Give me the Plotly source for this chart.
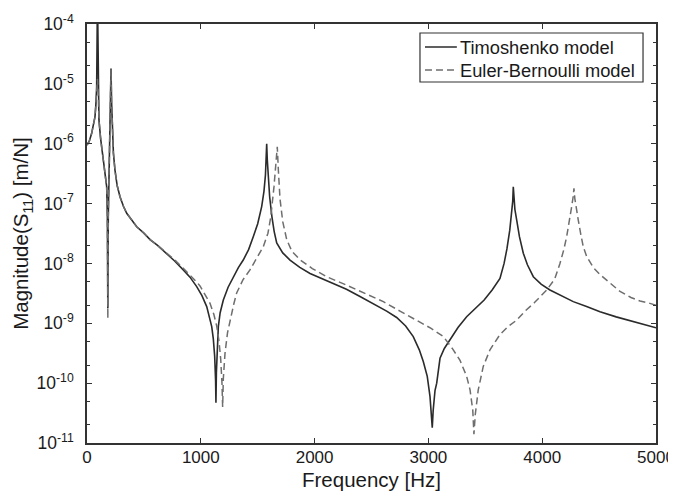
import plotly.graph_objects as go

# Timoshenko model (solid)
timo_freq = [0, 20, 41, 55, 70, 78, 85, 92, 100, 105, 120, 143, 160, 173, 179, 183, 187, 193, 200, 205, 211,
             216, 222, 232, 246, 265, 290, 320, 349, 390, 437, 500, 554, 620, 700, 770, 846, 905, 964, 1010,
             1052, 1080, 1096, 1110, 1122, 1130, 1133, 1137, 1145, 1154, 1170, 1198, 1240, 1286, 1330, 1373,
             1420, 1461, 1500, 1535, 1555, 1568, 1575, 1579, 1584, 1592, 1605, 1625, 1645, 1667, 1720, 1784,
             1870, 1960, 2060, 2164, 2280, 2399, 2520, 2633, 2721, 2800, 2867, 2920, 2955, 2990, 3014, 3028,
             3034, 3042, 3058, 3073, 3102, 3140, 3190, 3260, 3336, 3420, 3490, 3560, 3629, 3665, 3690, 3715,
             3732, 3741, 3746, 3752, 3760, 3776, 3800, 3834, 3870, 3922, 3990, 4068, 4170, 4273, 4390, 4508,
             4650, 4800, 5000]
timo_mag = [9.5e-7, 1.1e-6, 1.49e-6, 2.0e-6, 2.8e-6, 4.5e-6, 9.0e-6, 3e-4, 6e-6, 2.5e-6, 1.2e-6, 5.3e-7, 3e-7,
            1.9e-7, 6e-8, 1.8e-9, 6e-8, 3.6e-7, 1.5e-6, 9e-6, 1.8e-5,
            5e-6, 1.7e-6, 7e-7, 3.6e-7, 2.0e-7, 1.3e-7, 9e-8, 6.9e-8, 5.3e-8, 4.1e-8, 3.2e-8, 2.5e-8, 2.0e-8,
            1.48e-8, 1.1e-8, 7.8e-9, 5.9e-9, 4.1e-9, 2.9e-9,
            1.9e-9, 1.2e-9, 8.8e-10, 5.5e-10, 2.8e-10, 1.1e-10, 4.7e-11, 1.5e-10, 4e-10, 8.8e-10, 1.5e-9, 2.45e-9,
            4.0e-9, 6.0e-9, 8.5e-9, 1.14e-8,
            1.7e-8, 2.8e-8, 4.6e-8, 8.9e-8, 1.6e-7, 3.0e-7, 5.5e-7, 1.0e-6, 5.5e-7, 2.8e-7, 1.3e-7, 6.0e-8,
            3.4e-8, 2.2e-8, 1.5e-8, 1.14e-8,
            8.6e-9, 6.8e-9, 5.6e-9, 4.7e-9, 3.7e-9, 2.8e-9, 2.1e-9, 1.6e-9, 1.25e-9, 9e-10, 6e-10, 3.6e-10,
            2.3e-10, 1.3e-10, 6e-11, 3.0e-11,
            1.8e-11, 3.5e-11, 7.5e-11, 1.0e-10, 2.6e-10, 3.8e-10, 5.3e-10, 8.5e-10, 1.29e-9, 1.8e-9, 2.45e-9,
            3.6e-9, 5.6e-9, 1.0e-8, 1.75e-8, 3.6e-8,
            6.5e-8, 1.1e-7, 1.9e-7, 1.1e-7, 8e-8, 5.3e-8, 2.8e-8, 1.48e-8, 9.5e-9, 6.0e-9, 4.5e-9, 3.6e-9,
            2.9e-9, 2.3e-9, 1.9e-9, 1.56e-9,
            1.28e-9, 1.06e-9, 8.4e-10]

# Euler-Bernoulli model (dashed)
eb_freq = [0, 20, 41, 55, 70, 78, 85, 92, 100, 105, 120, 143, 160, 173, 179, 183, 187, 193, 200, 205, 211,
           216, 222, 232, 246, 265, 290, 320, 349, 390, 437, 500, 554, 620, 700, 770, 846, 905, 964, 993,
           1040, 1081, 1115, 1140, 1160, 1175, 1186, 1192, 1198, 1213, 1235, 1257, 1290, 1315, 1370, 1432,
           1490, 1549, 1590, 1615, 1643, 1660, 1672, 1682, 1696, 1720, 1755, 1800, 1872, 1980, 2106, 2250,
           2399, 2500, 2604, 2750, 2897, 3020, 3131, 3210, 3278, 3336, 3366, 3390, 3400, 3412, 3438, 3482,
           3541, 3629, 3700, 3776, 3850, 3930, 4040, 4110, 4156, 4190, 4215, 4240, 4259, 4272, 4279, 4287,
           4300, 4317, 4340, 4361, 4391, 4450, 4508, 4600, 4684, 4780, 4860, 4947, 5000]
eb_mag = [9.5e-7, 1.1e-6, 1.49e-6, 2.0e-6, 2.8e-6, 4.5e-6, 9.0e-6, 1.2e-5, 6e-6, 2.5e-6, 1.2e-6, 5.3e-7, 3e-7,
          1.9e-7, 6e-8, 1.2e-9, 6e-8, 3.6e-7, 1.5e-6, 9e-6, 1.75e-5,
          5e-6, 1.7e-6, 7e-7, 3.6e-7, 2.0e-7, 1.3e-7, 9e-8, 6.9e-8, 5.3e-8, 4.1e-8, 3.2e-8, 2.5e-8, 2.0e-8,
          1.5e-8, 1.15e-8, 8.3e-9, 6.5e-9, 4.9e-9, 4.2e-9,
          3.0e-9, 2.16e-9, 1.4e-9, 9e-10, 5e-10, 2.5e-10, 1.0e-10, 4.0e-11, 1.2e-10, 3.2e-10, 7e-10, 1.13e-9,
          2.1e-9, 3.2e-9, 5.3e-9, 7.8e-9,
          1.2e-8, 1.9e-8, 3.2e-8, 6e-8, 1.9e-7, 4e-7, 8.9e-7, 3.5e-7, 1.2e-7, 5e-8, 2.5e-8, 1.6e-8, 1.15e-8,
          8.2e-9, 6.0e-9, 4.6e-9,
          3.4e-9, 2.8e-9, 2.3e-9, 1.6e-9, 1.13e-9, 8.3e-10, 6e-10, 3.8e-10, 2.4e-10, 1.3e-10, 7.7e-11, 3.5e-11,
          1.4e-11, 3.0e-11, 7.7e-11, 1.9e-10,
          3.6e-10, 6.5e-10, 8.8e-10, 1.13e-9, 1.6e-9, 2.2e-9, 3.6e-9, 5.5e-9, 1.0e-8, 1.7e-8, 2.8e-8, 5e-8,
          8.9e-8, 1.3e-7, 1.8e-7, 1.2e-7,
          8e-8, 5.3e-8, 3e-8, 1.9e-8, 1.3e-8, 8.5e-9, 6.5e-9, 4.7e-9, 3.4e-9, 2.7e-9, 2.35e-9, 2.15e-9, 2.0e-9]

series_names = ["Timoshenko model", "Euler-Bernoulli model"]
x_ticks = [0, 1000, 2000, 3000, 4000, 5000]
y_tickvals = [1e-11, 1e-10, 1e-9, 1e-8, 1e-7, 1e-6, 1e-5, 1e-4]
y_ticktext = ["10<sup>-11</sup>", "10<sup>-10</sup>", "10<sup>-9</sup>", "10<sup>-8</sup>",
              "10<sup>-7</sup>", "10<sup>-6</sup>", "10<sup>-5</sup>", "10<sup>-4</sup>"]

FONT = "Liberation Sans, Arial, sans-serif"
AX = "#333333"
SOLID = "#2b2b2b"
DASHC = "#6e6e6e"
DASH = "7px,4px"

fig = go.Figure()
fig.add_trace(go.Scatter(x=timo_freq, y=timo_mag, mode="lines", name=series_names[0],
                         line=dict(color=SOLID, width=1.6), showlegend=False))
fig.add_trace(go.Scatter(x=eb_freq, y=eb_mag, mode="lines", name=series_names[1],
                         line=dict(color=DASHC, width=1.5, dash=DASH), showlegend=False))

# legend box drawn in paper coordinates (page has an 8px body margin)
fig.add_shape(type="rect", xref="paper", yref="paper", x0=0.5852, x1=0.9772, y0=0.8616, y1=0.9785,
              line=dict(color=AX, width=1.2), fillcolor="white", layer="above")
fig.add_shape(type="line", xref="paper", yref="paper", x0=0.594, x1=0.650, y0=0.9451, y1=0.9451,
              line=dict(color=SOLID, width=1.6), layer="above")
fig.add_shape(type="line", xref="paper", yref="paper", x0=0.594, x1=0.650, y0=0.8902, y1=0.8902,
              line=dict(color=DASHC, width=1.5, dash=DASH), layer="above")
for name, yy in zip(series_names, [0.9451, 0.8902]):
    fig.add_annotation(text=name, xref="paper", yref="paper", x=0.652, y=yy, xanchor="left",
                       yanchor="middle", showarrow=False,
                       font=dict(family=FONT, size=18.3, color="#1a1a1a"))

fig.update_layout(
    width=668, height=488,
    margin=dict(l=79, r=20, t=16, b=53, autoexpand=False),
    paper_bgcolor="white", plot_bgcolor="white",
    font=dict(family=FONT, size=17.5, color="#1a1a1a"),
    showlegend=False,
    xaxis=dict(range=[0, 5000], tickvals=x_ticks, ticks="inside", ticklen=5, tickcolor=AX,
               tickfont=dict(size=17),
               showline=True, linecolor=AX, linewidth=1.5, mirror="ticks", showgrid=False, zeroline=False,
               automargin=False, ticklabelstandoff=-2,
               title=dict(text="Frequency [Hz]", font=dict(size=20.5), standoff=6)),
    yaxis=dict(type="log", range=[-11, -4], tickvals=y_tickvals, ticktext=y_ticktext,
               ticks="inside", ticklen=5, tickcolor=AX,
               minor=dict(ticks="inside", ticklen=3, tickcolor=AX, showgrid=False),
               showline=True, linecolor=AX, linewidth=1.5, mirror="ticks", showgrid=False, zeroline=False,
               automargin=False, ticklabelstandoff=8,
               title=dict(text="Magnitude(S<sub>11</sub>) [m/N]", font=dict(size=20.5), standoff=2)),
)

fig.write_html("out.html")
